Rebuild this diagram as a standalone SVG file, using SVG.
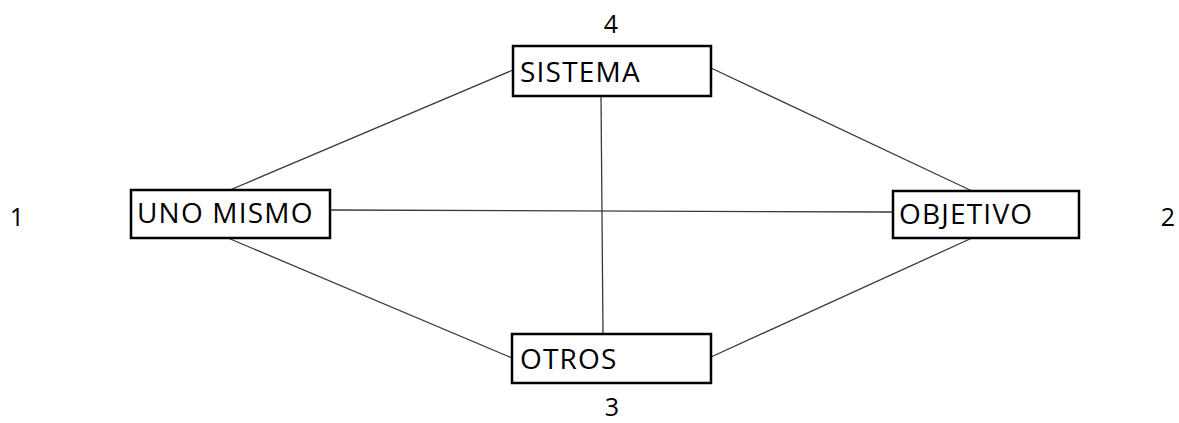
<svg xmlns="http://www.w3.org/2000/svg" width="1179" height="423" viewBox="0 0 1179 423">
  <style>
    .box { fill: #ffffff; stroke: #000000; stroke-width: 2.5; }
    .link { stroke: #3a3a3a; stroke-width: 1.3; fill: none; }
    .lbl { font-family: "Open Sans", "DejaVu Sans", sans-serif; font-size: 28px; fill: #000000; letter-spacing: 1.2px; }
    .num { font-family: "Open Sans", "DejaVu Sans", sans-serif; font-size: 25px; fill: #000000; text-anchor: middle; }
  </style>
  <rect width="1179" height="423" fill="#ffffff"/>

  <g id="connectors">
    <line class="link" x1="230" y1="190" x2="513" y2="70"/>
    <line class="link" x1="711" y1="68" x2="972" y2="191"/>
    <line class="link" x1="330" y1="210" x2="893" y2="212"/>
    <line class="link" x1="601" y1="96" x2="603" y2="334"/>
    <line class="link" x1="228" y1="238" x2="512" y2="358"/>
    <line class="link" x1="711" y1="357" x2="972" y2="238"/>
  </g>

  <g id="node-sistema">
    <rect class="box" x="513" y="46" width="198" height="50"/>
    <text class="lbl" x="520" y="82">SISTEMA</text>
    <text class="num" x="611" y="33">4</text>
  </g>

  <g id="node-uno-mismo">
    <rect class="box" x="131" y="190" width="199" height="48"/>
    <text class="lbl" x="137" y="223">UNO MISMO</text>
    <text class="num" x="17" y="226">1</text>
  </g>

  <g id="node-objetivo">
    <rect class="box" x="893" y="191" width="186" height="47"/>
    <text class="lbl" x="899" y="224">OBJETIVO</text>
    <text class="num" x="1168" y="226">2</text>
  </g>

  <g id="node-otros">
    <rect class="box" x="512" y="334" width="199" height="49"/>
    <text class="lbl" x="520" y="369">OTROS</text>
    <text class="num" x="612" y="416">3</text>
  </g>
</svg>
